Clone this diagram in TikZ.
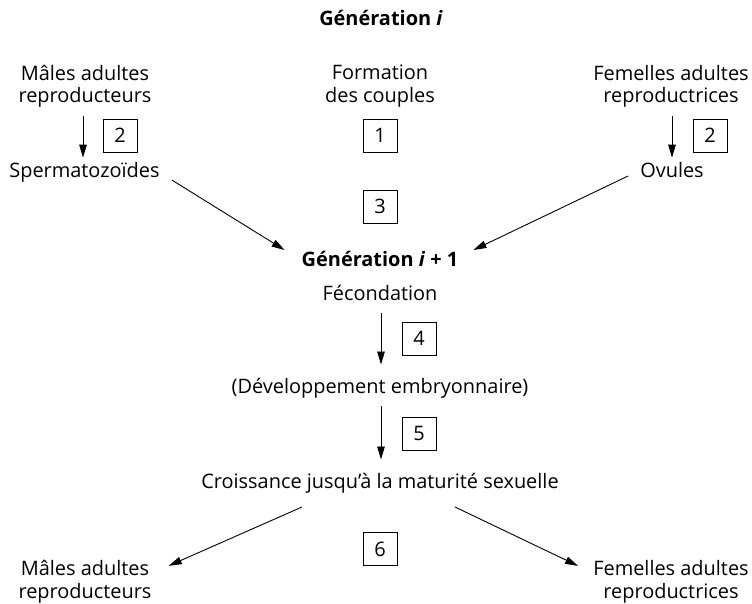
\documentclass[tikz,border=0pt]{standalone}
\usepackage{fontspec}
\setmainfont{Open Sans}
\usetikzlibrary{arrows.meta}
\begin{document}
\begin{tikzpicture}[x=1bp,y=-1bp,
  txt/.style={align=center,inner sep=0pt,font=\fontsize{20}{23}\selectfont},
  lbl/.style={txt,anchor=base},
  numbox/.style={draw,line width=0.9bp,minimum width=34bp,minimum height=33bp,inner sep=0pt,font=\fontsize{20}{23}\selectfont},
  conn/.style={line width=0.9bp,-{Triangle[length=13bp,width=7.5bp]}}]
\useasboundingbox (0,0) rectangle (752,604);
\node[lbl] (gi) at (381,26) {\textbf{Génération \textit{i}}};
\node[txt] (mtop) at (85,86.3) {Mâles adultes\\reproducteurs};
\node[txt] (form) at (380,86.3) {Formation\\des couples};
\node[txt] (ftop) at (671,86.3) {Femelles adultes\\reproductrices};
\node[numbox] (b2l) at (120,135.5) {2};
\node[numbox] (b1) at (380,135.5) {1};
\node[numbox] (b2r) at (710,135.5) {2};
\node[lbl] (sperm) at (84.5,178) {Spermatozoïdes};
\node[lbl] (ovu) at (672,178) {Ovules};
\node[numbox] (b3) at (380,206.5) {3};
\node[lbl] (gen1) at (380,266) {\textbf{Génération \textit{i} + 1}};
\node[lbl] (fec) at (380,300) {Fécondation};
\node[numbox] (b4) at (419,338.5) {4};
\node[lbl] (dev) at (380,393) {(Développement embryonnaire)};
\node[numbox] (b5) at (419,433.5) {5};
\node[lbl] (cro) at (380,488) {Croissance jusqu’à la maturité sexuelle};
\node[numbox] (b6) at (380,549) {6};
\node[txt] (mbot) at (85,581.5) {Mâles adultes\\reproducteurs};
\node[txt] (fbot) at (671,581.5) {Femelles adultes\\reproductrices};
\coordinate (aL) at (83,117);
\coordinate (aR) at (672,117);
\draw[conn] (mtop.south -| aL) ++(0,8) -- ([yshift=5bp]sperm.north -| aL);
\draw[conn] (ftop.south -| aR) ++(0,8) -- ([yshift=5bp]ovu.north -| aR);
\draw[conn] ([xshift=12bp,yshift=-2bp]sperm.base east) -- ([xshift=-17bp,yshift=16bp]gen1.base west);
\draw[conn] ([xshift=-12bp,yshift=2bp]ovu.base west) -- ([xshift=15bp,yshift=16bp]gen1.base east);
\draw[conn] ([xshift=1bp,yshift=-13bp]fec.base) -- ([xshift=1bp,yshift=13bp]dev.north);
\draw[conn] ([xshift=1bp,yshift=-13bp]dev.base) -- ([xshift=1bp,yshift=13bp]cro.north);
\draw[conn] ([xshift=-78bp,yshift=-19bp]cro.base) -- ([xshift=17bp,yshift=-6bp]mbot.north east);
\draw[conn] ([xshift=75bp,yshift=-19bp]cro.base) -- ([xshift=-15bp,yshift=-6bp]fbot.north west);
\end{tikzpicture}
\end{document}
